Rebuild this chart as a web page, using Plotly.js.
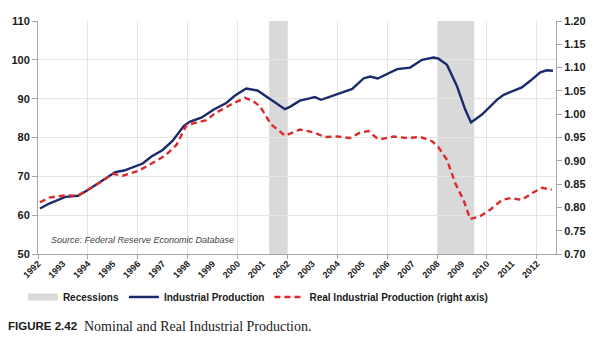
<!DOCTYPE html>
<html>
<head>
<meta charset="utf-8">
<script src="https://cdn.plot.ly/plotly-3.0.1.min.js"></script>
<style>html,body{margin:0;padding:0;background:#fff;}#chart{width:602px;height:345px;}</style>
</head>
<body>
<div id="chart"></div>
<script>
// Industrial Production (left axis) — decimal years and index values
var ipYears = [1992.08,1992.45,1993.1,1993.6,1994.0,1994.6,1995.1,1995.45,1996.05,1996.2,1996.55,1997.0,1997.4,1997.85,1998.1,1998.55,1999.05,1999.55,1999.9,2000.35,2000.8,2001.3,2001.9,2002.1,2002.5,2002.85,2003.1,2003.35,2003.85,2004.2,2004.6,2005.05,2005.32,2005.62,2006.4,2006.92,2007.4,2007.86,2008.06,2008.4,2008.8,2009.13,2009.36,2009.8,2010.4,2010.67,2011.07,2011.4,2011.74,2012.14,2012.4,2012.65];
var ipValues = [61.7,63.0,64.7,65.0,66.5,68.9,71.1,71.5,73.0,73.3,75.1,76.8,79.2,83.0,84.1,85.1,87.2,88.9,90.8,92.6,92.1,89.9,87.3,87.9,89.5,90.0,90.4,89.7,90.8,91.7,92.5,95.2,95.7,95.2,97.6,98.0,100.0,100.6,100.3,98.7,93.2,87.2,83.9,85.9,89.7,91.0,92.1,92.9,94.6,96.8,97.3,97.2];

// Real Industrial Production (right axis)
var realYears = [1992.08,1992.45,1993.1,1993.6,1994.0,1994.6,1995.0,1995.4,1996.05,1996.5,1997.1,1997.55,1997.95,1998.2,1998.75,1999.1,1999.55,1999.85,2000.3,2000.6,2000.9,2001.35,2001.9,2002.5,2003.05,2003.5,2004.0,2004.5,2004.9,2005.25,2005.6,2005.8,2006.25,2006.8,2007.35,2007.8,2008.06,2008.4,2008.73,2009.06,2009.33,2009.73,2010.13,2010.6,2010.95,2011.4,2011.86,2012.2,2012.6];
var realValues = [0.811,0.821,0.826,0.825,0.838,0.857,0.872,0.868,0.879,0.893,0.911,0.934,0.976,0.980,0.987,1.002,1.015,1.024,1.035,1.029,1.017,0.978,0.954,0.967,0.961,0.951,0.952,0.949,0.960,0.964,0.948,0.947,0.952,0.949,0.951,0.942,0.929,0.902,0.852,0.816,0.775,0.781,0.795,0.816,0.820,0.816,0.832,0.842,0.838];

// Recession periods
var recessionStart = [2001.27, 2008.0];
var recessionEnd = [2002.0, 2009.49];

// Tick labels
var yearTicks = [1992,1993,1994,1995,1996,1997,1998,1999,2000,2001,2002,2003,2004,2005,2006,2007,2008,2009,2010,2011,2012];
var yearLabels = yearTicks.map(String);
var gridYears = [1992,1994,1996,1998,2000,2002,2004,2006,2008,2010,2012];

var boldTick = {family:'Liberation Sans, Arial, sans-serif', size:11, color:'#1a1a1a', weight:'bold'};

var traces = [
  {x:[null], y:[null], type:'scatter', mode:'lines', name:'Recessions',
   line:{color:'#d9d9d9', width:7}, hoverinfo:'skip'},
  {x:ipYears, y:ipValues, type:'scatter', mode:'lines', name:'Industrial Production',
   line:{color:'#1c2a6a', width:2.4}, yaxis:'y'},
  {x:realYears, y:realValues, type:'scatter', mode:'lines', name:'Real Industrial Production (right axis)',
   line:{color:'#dc2a2a', width:2.4, dash:'6px,4px'}, yaxis:'y2'}
];

var shapes = recessionStart.map(function(s, i){
  return {type:'rect', xref:'x', yref:'paper', x0:s, x1:recessionEnd[i], y0:0, y1:1,
          fillcolor:'#d9d9d9', line:{width:0}, layer:'below'};
});

var layout = {
  width:602, height:345,
  margin:{l:38, r:46, t:21, b:91},
  paper_bgcolor:'#ffffff', plot_bgcolor:'#ffffff',
  showlegend:true,
  legend:{orientation:'h', xref:'container', x:0.038, xanchor:'left', yref:'container', y:0.139, yanchor:'middle',
          bgcolor:'rgba(0,0,0,0)',
          font:{family:'Liberation Sans, Arial, sans-serif', size:10, color:'#1a1a1a', weight:'bold'},
          itemwidth:30, tracegroupgap:0, traceorder:'normal'},
  xaxis:{type:'linear', range:[1992, 2012.77], tickmode:'array', tickvals:yearTicks, ticktext:yearLabels,
         tickangle:-45, ticks:'', showgrid:false, zeroline:false, automargin:false,
         showline:true, linecolor:'#a6a6a6', linewidth:1,
         tickfont:{family:'Liberation Sans, Arial, sans-serif', size:9, color:'#1a1a1a', weight:'bold'},
         minor:{tickmode:'array', tickvals:gridYears, showgrid:true, gridcolor:'#e4e4e4', gridwidth:1,
                ticks:'outside', ticklen:4, tickcolor:'#a6a6a6'}},
  yaxis:{range:[50,110], dtick:10, tick0:50, showgrid:true, gridcolor:'#e4e4e4', zeroline:false, automargin:false,
         showline:true, linecolor:'#a6a6a6', ticks:'outside', ticklen:5, tickcolor:'#a6a6a6',
         tickfont:boldTick},
  yaxis2:{range:[0.70,1.20], dtick:0.05, tick0:0.70, tickformat:'.2f', overlaying:'y', side:'right', automargin:false,
          showgrid:false, zeroline:false, showline:true, linecolor:'#a6a6a6', ticks:'outside', ticklen:5,
          tickcolor:'#a6a6a6', tickfont:boldTick},
  shapes:shapes,
  annotations:[
    {xref:'paper', yref:'paper', x:0.021, y:0.06, xanchor:'left', yanchor:'middle', showarrow:false,
     text:'Source: Federal Reserve Economic Database',
     font:{family:'Liberation Sans, Arial, sans-serif', size:9, color:'#444444', style:'italic'}},
    {xref:'paper', yref:'paper', xanchor:'left', yanchor:'middle', showarrow:false,
     x:-0.062, y:-0.31, text:'<b>FIGURE 2.42</b>',
     font:{family:'Liberation Sans, Arial, sans-serif', size:11.5, color:'#1a1a1a'}},
    {xref:'paper', yref:'paper', xanchor:'left', yanchor:'middle', showarrow:false,
     x:0.085, y:-0.31, text:'Nominal and Real Industrial Production.',
     font:{family:'Liberation Serif, Times New Roman, serif', size:14, color:'#1a1a1a'}}
  ]
};

Plotly.newPlot('chart', traces, layout, {displayModeBar:false, staticPlot:true});
</script>
</body>
</html>
